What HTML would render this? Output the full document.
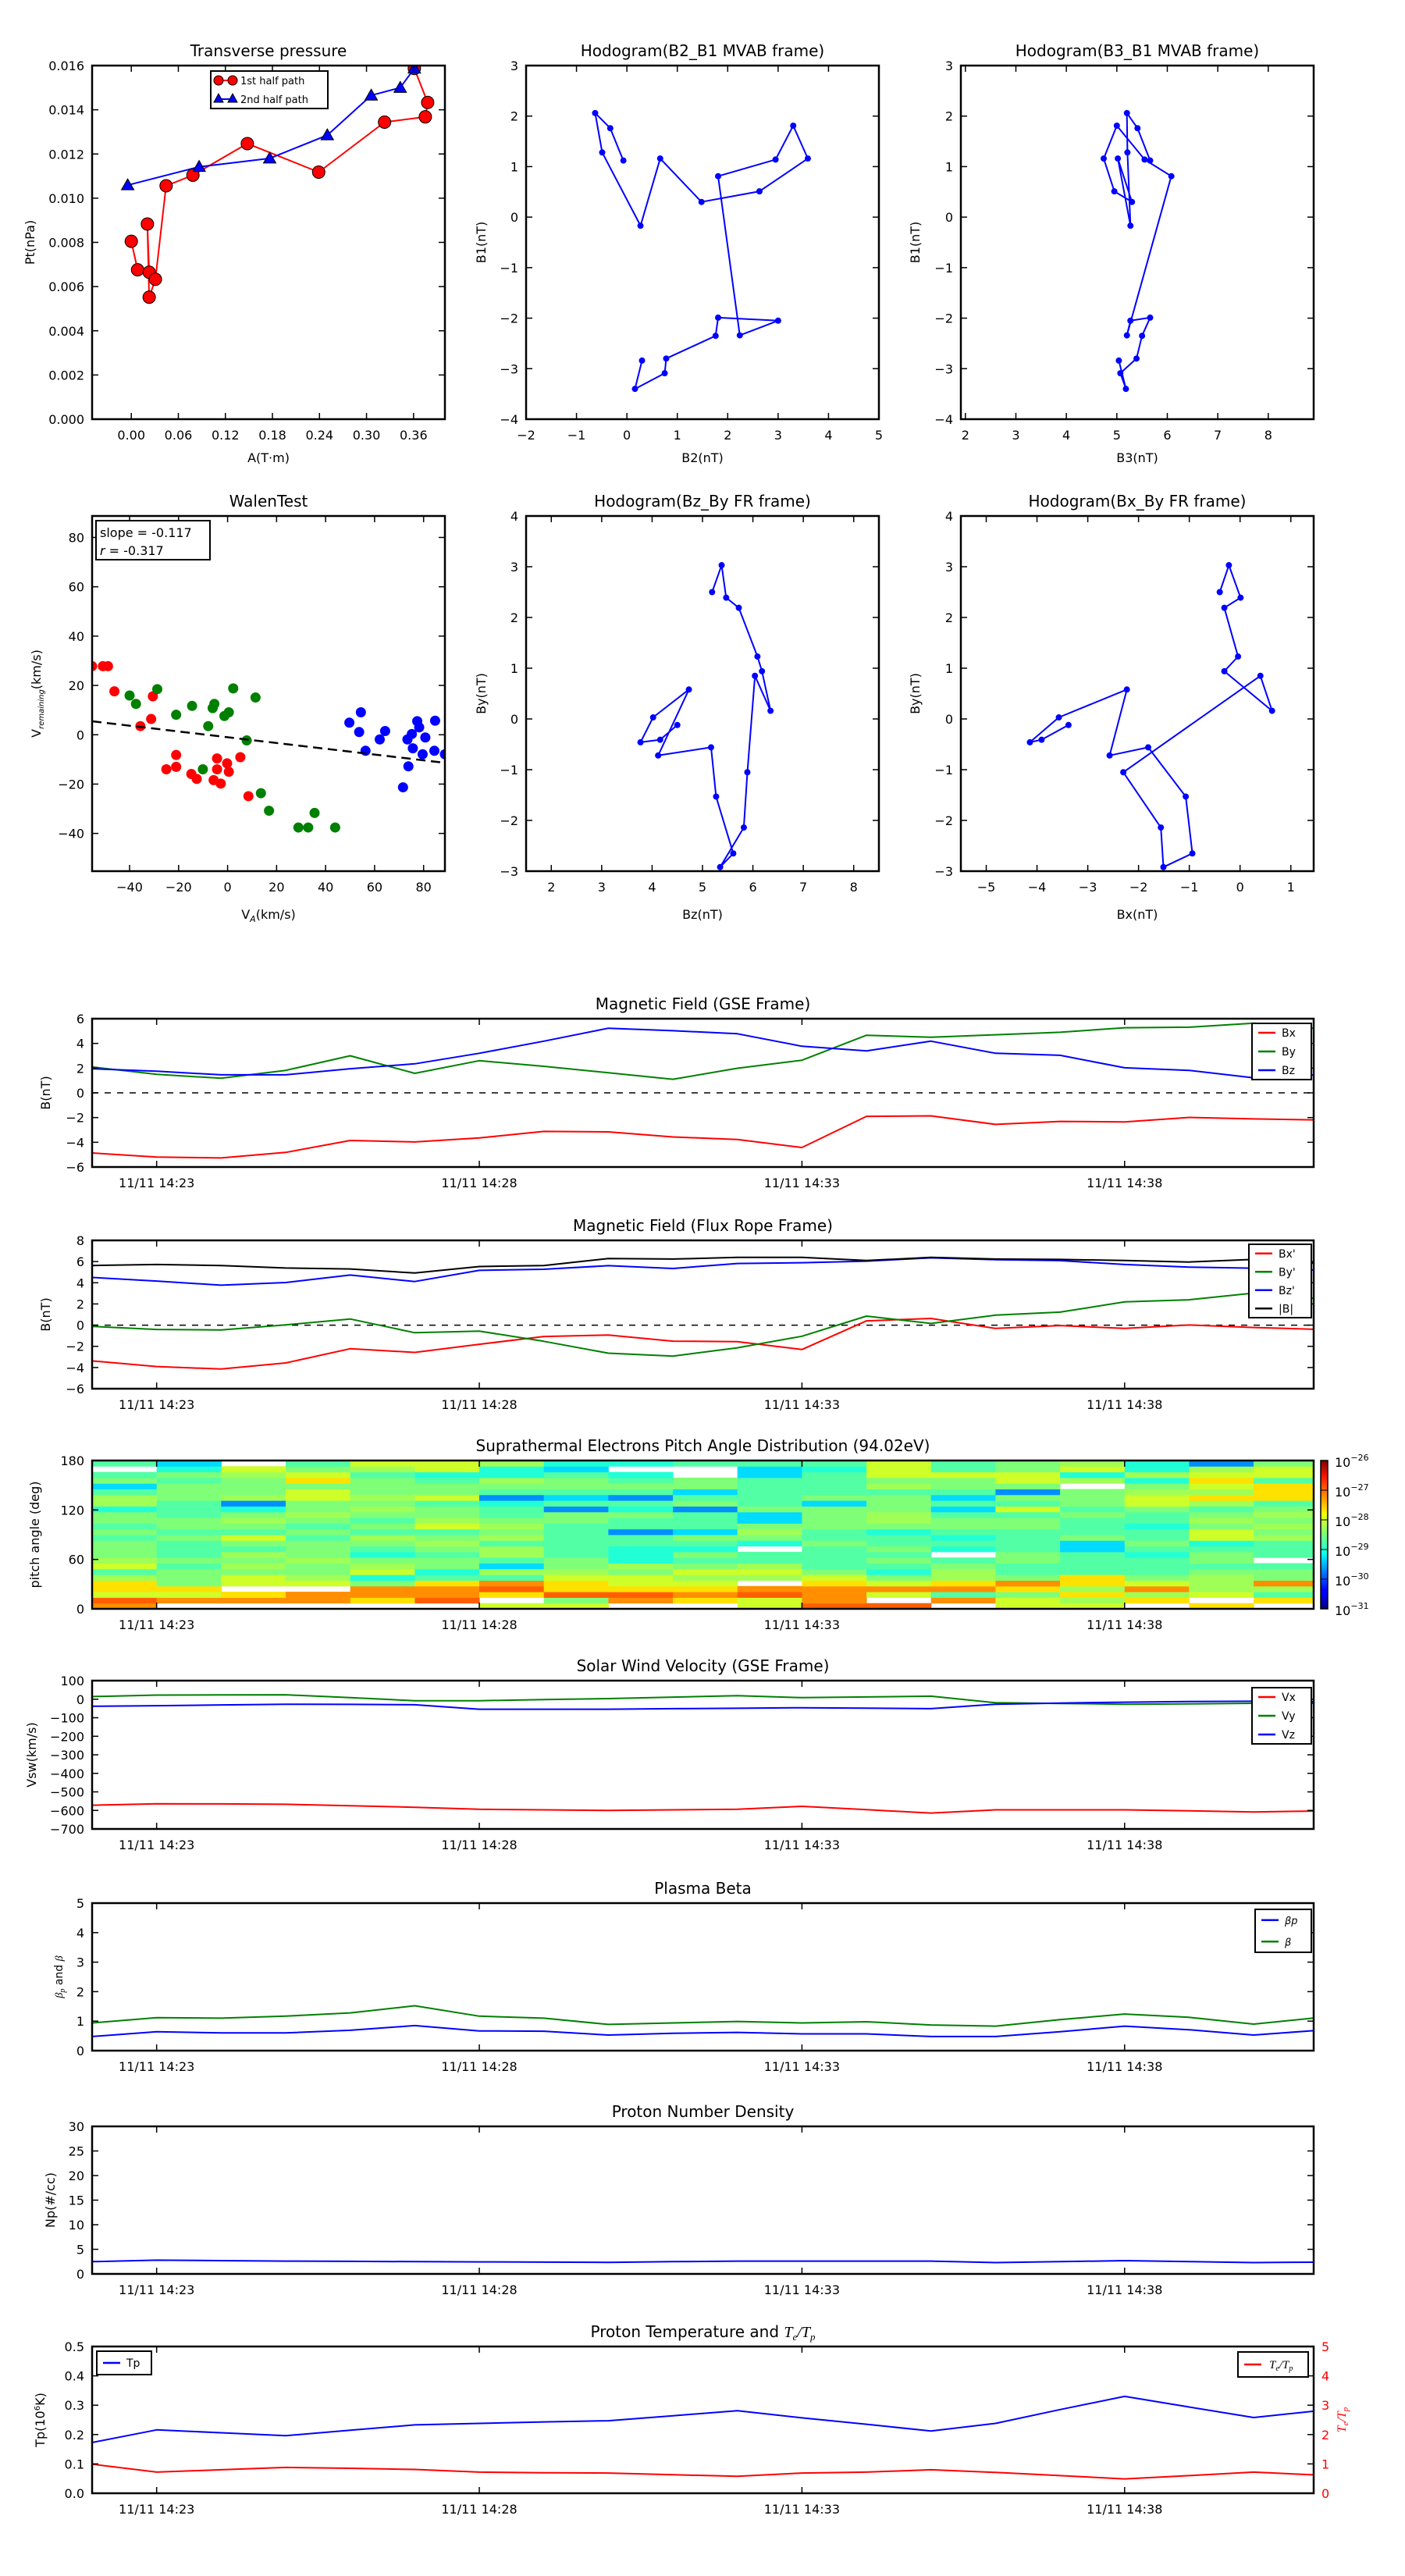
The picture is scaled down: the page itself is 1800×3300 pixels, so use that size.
<!DOCTYPE html>
<html><head><meta charset="utf-8"><style>
html,body{margin:0;padding:0;background:#fff;}
svg{display:block;font-family:"DejaVu Sans","Liberation Sans",sans-serif;}
</style></head><body>
<svg id="fig" xmlns="http://www.w3.org/2000/svg" width="1800" height="3300" viewBox="0 0 1800 3300">
<defs>
<linearGradient id="jetgrad" x1="0" y1="1" x2="0" y2="0">
<stop offset="0" stop-color="#00007f"/><stop offset="0.11" stop-color="#0000ff"/><stop offset="0.125" stop-color="#0000ff"/><stop offset="0.34" stop-color="#00dcff"/><stop offset="0.375" stop-color="#0dffe8"/><stop offset="0.5" stop-color="#7bff7b"/><stop offset="0.64" stop-color="#f2ff08"/><stop offset="0.66" stop-color="#ffe600"/><stop offset="0.89" stop-color="#ff1500"/><stop offset="1" stop-color="#7f0000"/>
</linearGradient>
</defs>
</svg>
<script>
// ---------- data ----------
const ptA1=[0,0.008,0.0228,0.0205,0.0228,0.0307,0.0444,0.0786,0.148,0.239,0.323,0.375,0.378,0.361];
const ptP1=[0.00805,0.00676,0.00665,0.00883,0.00552,0.00633,0.01056,0.01104,0.01247,0.01118,0.01344,0.01368,0.01433,0.01587];
const ptA2=[-0.0046,0.0865,0.1765,0.25,0.306,0.343,0.361];
const ptP2=[0.01059,0.01142,0.0118,0.01285,0.01465,0.015,0.01587];
const hB2=[-0.07,-0.33,-0.63,-0.49,0.27,0.66,1.48,2.63,3.59,3.30,2.95,1.81,2.24,3.0,1.81,1.76,0.78,0.75,0.16,0.30];
const hB1=[1.12,1.76,2.06,1.28,-0.17,1.16,0.30,0.51,1.16,1.81,1.14,0.81,-2.34,-2.05,-1.99,-2.35,-2.80,-3.09,-3.40,-2.84];
const hB3=[5.66,5.41,5.2,5.21,5.27,5.02,5.3,4.95,4.74,5.0,5.55,6.08,5.2,5.27,5.66,5.5,5.39,5.07,5.18,5.04];
const wRedX=[-55.3,-50.9,-48.8,-46.2,-35.6,-31.2,-30.5,-25.0,-21.0,-21.0,-14.8,-12.6,-5.7,-4.3,-4.3,-2.8,-0.2,0.5,5.2,8.5];
const wRedY=[27.8,27.8,27.8,17.6,3.5,6.4,15.6,-14.0,-8.2,-13.0,-15.9,-17.9,-18.4,-9.6,-14.0,-19.8,-11.6,-15.0,-9.1,-24.9];
const wGrnX=[-40,-37.4,-28.7,-21,-14.5,-10.1,-7.9,-6.1,-5.4,-1.3,0.5,2.3,7.8,11.4,13.6,16.9,28.9,32.9,35.5,43.9];
const wGrnY=[15.9,12.5,18.5,8.1,11.7,-14.0,3.5,10.8,12.5,7.6,9.1,18.8,-2.3,15.1,-23.7,-30.8,-37.6,-37.6,-31.7,-37.6];
const wBluX=[49.7,53.7,54.4,56.3,62.1,64.3,71.6,73.4,73.8,75.2,75.6,77.4,78.2,79.6,80.7,84.7,84.4,88.7];
const wBluY=[4.9,1.1,9.1,-6.5,-1.9,1.5,-21.3,-1.9,-12.8,0.3,-5.5,5.5,3.0,-7.9,-1.1,5.7,-6.5,-7.9];
const walenSlope=-0.117, walenIntercept=-1.0;
const tMin=[0,1,2,3,4,5,6,7,8,9,10,11,12,13,14,15,16,17,18,19];
const timeTicks=[1,6,11,16];
const timeLabels=["11/11 14:23","11/11 14:28","11/11 14:33","11/11 14:38"];
const gseBx=[-4.86,-5.19,-5.27,-4.82,-3.85,-3.97,-3.65,-3.12,-3.16,-3.57,-3.77,-4.42,-1.9,-1.86,-2.55,-2.31,-2.35,-1.99,-2.11,-2.19];
const gseBy=[2.1,1.5,1.18,1.82,3.0,1.58,2.6,2.15,1.62,1.1,1.99,2.64,4.66,4.5,4.7,4.9,5.27,5.31,5.64,5.2];
const gseBz=[1.95,1.75,1.46,1.46,1.95,2.35,3.2,4.18,5.23,5.03,4.78,3.77,3.4,4.18,3.2,3.04,2.03,1.82,1.22,1.46];
const frBx=[-3.38,-3.91,-4.14,-3.57,-2.23,-2.57,-1.81,-1.07,-0.94,-1.51,-1.56,-2.3,0.4,0.63,-0.31,-0.04,-0.31,0.01,-0.22,-0.4];
const frBy=[-0.12,-0.41,-0.46,0.03,0.58,-0.72,-0.56,-1.53,-2.65,-2.92,-2.14,-1.05,0.85,0.16,0.94,1.23,2.19,2.39,3.03,2.5];
const frBz=[4.5,4.16,3.77,4.02,4.73,4.12,5.17,5.27,5.61,5.35,5.82,5.89,6.04,6.35,6.18,6.09,5.72,5.47,5.38,5.19];
const frBt=[5.63,5.72,5.63,5.39,5.3,4.92,5.53,5.63,6.29,6.24,6.39,6.39,6.1,6.39,6.24,6.2,6.1,5.96,6.2,5.82];
const padCols=["oryYYmgymlllglglltmmgclg.g",".oyYlllglggglgllggglllgltc",".oY.yylmlmglyglmltbmlllmy.",".oo.ymllmlllglglmllyylYylg",".Yooltymltglmglglmlmlllgmy",".rooYgtllglmlgymllgyllgtyy","y.Yrogmcgmmgmlmlggtbglmttm","ylrYYymllggggggllbgcgllgct",".orYyylmtttggbggltgbglgt.t",".YoYymylgltglcgggblgcll..g","yyro.mymgg.tlmlcclgggggccg","roooYylgggglggllllclggggtg","r.yoyltglglggtlmmlllgmlyyy",".ogoYmmlg.tgtgllgcgcgllygg","yylYolggllggggllgyglblyyll","ymYmYYggggcclggglglll.mtym",".Ymoylgggtglggtgglyymltmtt","Y.ymmmlgllgtyylmlgmYmyYymb",".Ygmollg.gggmlmlmlgYYYgyyl"];
const padLogFlux={b:-29.675,c:-29.3,t:-29.05,g:-28.75,l:-28.475,m:-28.275,y:-28.0,Y:-27.64,o:-27.2,r:-26.95};
const swVx=[-572,-564,-565,-567,-575,-583,-594,-597,-600,-597,-594,-578,-596,-614,-597,-597,-597,-602,-608,-603];
const swVy=[14,22,23,24,8,-8,-8,-2,3,11,19,8,12,16,-19,-23,-27,-25,-22,-22];
const swVz=[-38,-35,-31,-27,-28,-30,-54,-54,-54,-51,-49,-46,-48,-51,-27,-21,-16,-13,-11,-14];
const betaP=[0.48,0.64,0.6,0.6,0.69,0.85,0.67,0.66,0.53,0.59,0.62,0.57,0.57,0.48,0.48,0.64,0.83,0.71,0.53,0.69];
const betaT=[0.94,1.12,1.1,1.17,1.28,1.52,1.17,1.1,0.89,0.94,0.99,0.94,0.98,0.87,0.83,1.05,1.24,1.13,0.9,1.12];
const npVals=[2.5,2.8,2.7,2.6,2.55,2.5,2.45,2.4,2.35,2.5,2.6,2.6,2.6,2.6,2.3,2.5,2.7,2.5,2.3,2.4];
const tpVals=[0.173,0.216,0.206,0.196,0.215,0.233,0.238,0.243,0.247,0.264,0.281,0.257,0.235,0.212,0.238,0.285,0.33,0.294,0.258,0.281];
const teTpVals=[0.99,0.72,0.8,0.88,0.85,0.81,0.72,0.7,0.69,0.63,0.58,0.69,0.72,0.8,0.71,0.6,0.49,0.6,0.72,0.62];

// ---------- helpers ----------
const NS='http://www.w3.org/2000/svg';
const svg=document.getElementById('fig');
function mk(tag,attrs,parent){const e=document.createElementNS(NS,tag);for(const k in attrs)e.setAttribute(k,attrs[k]);(parent||svg).appendChild(e);return e;}
function txt(s,attrs,parent){const e=mk('text',attrs,parent);e.textContent=s;return e;}
function lin(d0,d1,r0,r1){return v=>r0+(v-d0)*(r1-r0)/(d1-d0);}
function fmtMinus(s){return String(s).replace('-','\u2212');}
let clipN=0;
function axes(x0,y0,x1,y1,xd,yd,name){
  const g=mk('g',{});
  
  
  const id='clip'+(clipN++);
  const cp=mk('clipPath',{id:id},g);mk('rect',{x:x0,y:y0,width:x1-x0,height:y1-y0},cp);
  const data=mk('g',{'clip-path':'url(#'+id+')'},g);
  
  
  const fr=mk('g',{},g);
  return {g,data,fr,x0,y0,x1,y1,sx:lin(xd[0],xd[1],x0,x1),sy:lin(yd[0],yd[1],y1,y0)};
}
function frame(a){
  const r=mk('rect',{x:a.x0,y:a.y0,width:a.x1-a.x0,height:a.y1-a.y0,fill:'none',stroke:'#000','stroke-width':2.5},a.fr);
  
  
}
function xTicks(a,vals,labels,fs){
  const g=mk('g',{},a.fr);
  
  
  vals.forEach((v,i)=>{const x=a.sx(v);
    mk('line',{x1:x,x2:x,y1:a.y1,y2:a.y1-8,stroke:'#000','stroke-width':1.5},g);
    mk('line',{x1:x,x2:x,y1:a.y0,y2:a.y0+8,stroke:'#000','stroke-width':1.5},g);
    txt(labels[i],{x:x,y:a.y1+26,'font-size':fs||16,'text-anchor':'middle'},g);});
}
function yTicks(a,vals,labels,noRight){
  const g=mk('g',{},a.fr);
  
  
  vals.forEach((v,i)=>{const y=a.sy(v);
    mk('line',{x1:a.x0,x2:a.x0+8,y1:y,y2:y,stroke:'#000','stroke-width':1.5},g);
    if(!noRight)mk('line',{x1:a.x1,x2:a.x1-8,y1:y,y2:y,stroke:'#000','stroke-width':1.5},g);
    txt(labels[i],{x:a.x0-10,y:y+6,'font-size':16,'text-anchor':'end'},g);});
}
function title(a,s,y){const t=txt(s,{x:(a.x0+a.x1)/2,y:y,'font-size':20,'text-anchor':'middle'},a.g);
  return t;}
function xLabel(a,s,y){const t=txt(s,{x:(a.x0+a.x1)/2,y:y,'font-size':16,'text-anchor':'middle'},a.g);
  return t;}
function yLabel(a,s,x,col){const cy=(a.y0+a.y1)/2;const t=txt(s,{x:x,y:cy,'font-size':16,'text-anchor':'middle',transform:'rotate(-90 '+x+' '+cy+')',fill:col||'#000'},a.g);
  return t;}
function poly(a,xs,ys,col,w,name,dash){
  const pts=xs.map((x,i)=>a.sx(x).toFixed(1)+','+a.sy(ys[i]).toFixed(1)).join(' ');
  const p=mk('polyline',{points:pts,fill:'none',stroke:col,'stroke-width':w||2,'stroke-linejoin':'round'},a.data);
  if(dash)p.setAttribute('stroke-dasharray',dash);
  
  
  return p;
}
function dots(a,xs,ys,col,r,name,stroke){
  xs.forEach((x,i)=>{const c=mk('circle',{cx:a.sx(x),cy:a.sy(ys[i]),r:r,fill:col,stroke:stroke||'none','stroke-width':1},a.data);
    
    });
}
function legend(x,y,w,h,entries,fs,parent){
  const g=mk('g',{},parent);
  
  
  mk('rect',{x:x,y:y,width:w,height:h,fill:'#fff',stroke:'#000','stroke-width':2},g);
  const step=h/entries.length;
  entries.forEach((e,i)=>{const cy=y+step*(i+0.5);
    const eg=mk('g',{},g);
    
    
    mk('line',{x1:x+8,x2:x+30,y1:cy,y2:cy,stroke:e[1],'stroke-width':2.5},eg);
    const t=txt(e[0],{x:x+38,y:cy+5,'font-size':fs||14},eg);
    if(e[2])t.setAttribute('font-style','italic');});
  return g;
}
const range=(a,b,s)=>{const r=[];for(let v=a;v<=b+1e-9;v+=s)r.push(+v.toFixed(6));return r;};

// ---------- Transverse pressure ----------
{const a=axes(118,84,570,537,[-0.05,0.40],[0,0.016],'transverse-pressure-chart');
 poly(a,ptA1,ptP1,'#ff0000',2,'first-half-path-line');
 poly(a,ptA2,ptP2,'#0000ff',2,'second-half-path-line');
 dots(a,ptA1,ptP1,'#ff0000',8,'first-half-point','#000');
 ptA2.forEach((v,i)=>{const x=a.sx(v),y=a.sy(ptP2[i]);
   const t=mk('polygon',{points:`${x},${y-8} ${x-8},${y+6} ${x+8},${y+6}`,fill:'#0000ff',stroke:'#000','stroke-width':1},a.data);
   
   });
 frame(a);
 const xv=[0,0.06,0.12,0.18,0.24,0.30,0.36];xTicks(a,xv,xv.map(v=>v.toFixed(2)));
 const yv=range(0,0.016,0.002);yTicks(a,yv,yv.map(v=>v.toFixed(3)));
 title(a,'Transverse pressure',72);xLabel(a,'A(T\u00b7m)',592);yLabel(a,'Pt(nPa)',44);
 const lg=mk('g',{},a.g);
 mk('rect',{x:270,y:91,width:150,height:48,fill:'#fff',stroke:'#000','stroke-width':2},lg);
 mk('line',{x1:278,x2:300,y1:103,y2:103,stroke:'#f00','stroke-width':2},lg);
 mk('circle',{cx:280,cy:103,r:6,fill:'#f00',stroke:'#000'},lg);mk('circle',{cx:298,cy:103,r:6,fill:'#f00',stroke:'#000'},lg);
 txt('1st half path',{x:308,y:108,'font-size':13},lg);
 mk('line',{x1:278,x2:300,y1:127,y2:127,stroke:'#00f','stroke-width':2},lg);
 mk('polygon',{points:'280,120 274,131 286,131',fill:'#00f',stroke:'#000'},lg);mk('polygon',{points:'298,120 292,131 304,131',fill:'#00f',stroke:'#000'},lg);
 txt('2nd half path',{x:308,y:132,'font-size':13},lg);
}
// ---------- Hodogram B2_B1 ----------
{const a=axes(674,84,1126,537,[-2,5],[-4,3],'hodogram-b2-b1-chart');
 poly(a,hB2,hB1,'#0000ff',2,'hodogram-b2-b1-line');dots(a,hB2,hB1,'#0000ff',4,'hodogram-b2-b1-point');
 frame(a);const xv=range(-2,5,1);xTicks(a,xv,xv.map(fmtMinus));const yv=range(-4,3,1);yTicks(a,yv,yv.map(fmtMinus));
 title(a,'Hodogram(B2_B1 MVAB frame)',72);xLabel(a,'B2(nT)',592);yLabel(a,'B1(nT)',622);}
// ---------- Hodogram B3_B1 ----------
{const a=axes(1231,84,1683,537,[1.91,8.9],[-4,3],'hodogram-b3-b1-chart');
 poly(a,hB3,hB1,'#0000ff',2,'hodogram-b3-b1-line');dots(a,hB3,hB1,'#0000ff',4,'hodogram-b3-b1-point');
 frame(a);const xv=range(2,8,1);xTicks(a,xv,xv.map(fmtMinus));const yv=range(-4,3,1);yTicks(a,yv,yv.map(fmtMinus));
 title(a,'Hodogram(B3_B1 MVAB frame)',72);xLabel(a,'B3(nT)',592);yLabel(a,'B1(nT)',1178);}
// ---------- Walen test ----------
{const a=axes(118,661,570,1116,[-55.3,88.7],[-55.3,88.7],'walen-test-chart');
 dots(a,wRedX,wRedY,'#ff0000',6.5,'walen-red-point');dots(a,wGrnX,wGrnY,'#008000',6.5,'walen-green-point');dots(a,wBluX,wBluY,'#0000ff',6.5,'walen-blue-point');
 const fx=[-55.3,88.7];poly(a,fx,fx.map(v=>walenSlope*v+walenIntercept),'#000',2.5,'walen-fit-line','12,7');
 frame(a);const xv=range(-40,80,20);xTicks(a,xv,xv.map(fmtMinus));const yv=range(-40,80,20);yTicks(a,yv,yv.map(fmtMinus));
 title(a,'WalenTest',649);
 const xl=xLabel(a,'',1177);xl.innerHTML='V<tspan font-size="11" dy="4" font-style="italic">A</tspan><tspan dy="-4">(km/s)</tspan>';
 const yl=yLabel(a,'',52);yl.innerHTML='V<tspan font-size="10" dy="4" font-style="italic">remaining</tspan><tspan dy="-4">(km/s)</tspan>';
 const bx=mk('g',{},a.g);
 mk('rect',{x:123,y:667,width:146,height:50,fill:'#fff',stroke:'#000','stroke-width':2},bx);
 txt('slope = -0.117',{x:128,y:688,'font-size':16},bx);
 const rt=txt('',{x:128,y:711,'font-size':16},bx);rt.innerHTML='<tspan font-style="italic">r</tspan> = -0.317';}
// ---------- Hodogram Bz_By ----------
{const a=axes(674,661,1126,1116,[1.5,8.5],[-3,4],'hodogram-bz-by-chart');
 poly(a,frBz,frBy,'#0000ff',2,'hodogram-bz-by-line');dots(a,frBz,frBy,'#0000ff',4,'hodogram-bz-by-point');
 frame(a);const xv=range(2,8,1);xTicks(a,xv,xv.map(fmtMinus));const yv=range(-3,4,1);yTicks(a,yv,yv.map(fmtMinus));
 title(a,'Hodogram(Bz_By FR frame)',649);xLabel(a,'Bz(nT)',1177);yLabel(a,'By(nT)',622);}
// ---------- Hodogram Bx_By ----------
{const a=axes(1231,661,1683,1116,[-5.5,1.45],[-3,4],'hodogram-bx-by-chart');
 poly(a,frBx,frBy,'#0000ff',2,'hodogram-bx-by-line');dots(a,frBx,frBy,'#0000ff',4,'hodogram-bx-by-point');
 frame(a);const xv=range(-5,1,1);xTicks(a,xv,xv.map(fmtMinus));const yv=range(-3,4,1);yTicks(a,yv,yv.map(fmtMinus));
 title(a,'Hodogram(Bx_By FR frame)',649);xLabel(a,'Bx(nT)',1177);yLabel(a,'By(nT)',1178);}

// ---------- time panels ----------
const TX0=118,TX1=1683,TD=[0,18.93];
function tpanel(y0,y1,yd,name,ttl){const a=axes(TX0,y0,TX1,y1,TD,yd,name);title(a,ttl,y0-12);return a;}
function tfinish(a,yv,ylabels,noRight){frame(a);xTicks(a,timeTicks,timeLabels);yTicks(a,yv,ylabels,noRight);}
// GSE
{const a=tpanel(1305,1495,[-6,6],'magnetic-field-gse-chart','Magnetic Field (GSE Frame)');
 poly(a,[0,18.93],[0,0],'#000',1.5,'zero-reference-line','8,8');
 poly(a,tMin,gseBx,'#ff0000',2,'series-bx');poly(a,tMin,gseBy,'#008000',2,'series-by');poly(a,tMin,gseBz,'#0000ff',2,'series-bz');
 const yv=range(-6,6,2);tfinish(a,yv,yv.map(fmtMinus));yLabel(a,'B(nT)',64);
 legend(1604,1311,76,72,[['Bx','#f00'],['By','#008000'],['Bz','#00f']],14,a.g);}
// Flux rope
{const a=tpanel(1589,1779,[-6,8],'magnetic-field-flux-rope-chart','Magnetic Field (Flux Rope Frame)');
 poly(a,[0,18.93],[0,0],'#000',1.5,'zero-reference-line','8,8');
 poly(a,tMin,frBx,'#ff0000',2,'series-bx-prime');poly(a,tMin,frBy,'#008000',2,'series-by-prime');poly(a,tMin,frBz,'#0000ff',2,'series-bz-prime');poly(a,tMin,frBt,'#000000',2,'series-b-total');
 const yv=range(-6,8,2);tfinish(a,yv,yv.map(fmtMinus));yLabel(a,'B(nT)',64);
 legend(1600,1594,80,94,[["Bx'",'#f00'],["By'",'#008000'],["Bz'",'#00f'],['|B|','#000']],14,a.g);}
// PAD
function jet(x){const c=(v)=>Math.max(0,Math.min(1,v));
  const pw=(pts)=>{for(let i=1;i<pts.length;i++){if(x<=pts[i][0]){const [x0,y0]=pts[i-1],[x1,y1]=pts[i];return y0+(y1-y0)*(x-x0)/(x1-x0);}}return pts[pts.length-1][1];};
  const r=pw([[0,0],[0.35,0],[0.66,1],[0.89,1],[1,0.5]]),g=pw([[0,0],[0.125,0],[0.375,1],[0.64,1],[0.91,0],[1,0]]),b=pw([[0,0.5],[0.11,1],[0.34,1],[0.65,0],[1,0]]);
  return 'rgb('+[r,g,b].map(v=>Math.round(c(v)*255)).join(',')+')';}
{const a=tpanel(1871,2061,[0,180],'pitch-angle-distribution-chart','Suprathermal Electrons Pitch Angle Distribution (94.02eV)');
 const nb=26,bw=180/nb;
 padCols.forEach((col,i)=>{for(let k=0;k<nb;k++){const ch=col[k];if(ch==='.')continue;
   const lv=padLogFlux[ch];const xn=(lv+31)/5;
   const x=a.sx(i),x2=a.sx(i+1),y=a.sy((k+1)*bw),y2=a.sy(k*bw);
   const r=mk('rect',{x:x.toFixed(1),y:y.toFixed(1),width:(x2-x+0.5).toFixed(1),height:(y2-y+0.5).toFixed(1),fill:jet(xn)},a.data);
   
   }});
 const yv=[0,60,120,180];tfinish(a,yv,yv.map(String));yLabel(a,'pitch angle (deg)',50);
 const cb=mk('g',{});
 mk('rect',{x:1692,y:1871,width:9,height:190,fill:'url(#jetgrad)',stroke:'#000','stroke-width':1.5},cb);
 [-26,-27,-28,-29,-30,-31].forEach((e,i)=>{const y=1871+i*38;
   mk('line',{x1:1692,x2:1701,y1:y,y2:y,stroke:'#000','stroke-width':1},cb);
   const t=txt('',{x:1710,y:y+8,'font-size':16},cb);t.innerHTML='10<tspan font-size="11" dy="-8">'+fmtMinus(e)+'</tspan>';
   });}
// SW velocity
{const a=tpanel(2153,2343,[-700,100],'solar-wind-velocity-chart','Solar Wind Velocity (GSE Frame)');
 poly(a,tMin,swVx,'#ff0000',2,'series-vx');poly(a,tMin,swVy,'#008000',2,'series-vy');poly(a,tMin,swVz,'#0000ff',2,'series-vz');
 const yv=range(-700,100,100);tfinish(a,yv,yv.map(fmtMinus));yLabel(a,'Vsw(km/s)',46);
 legend(1604,2162,76,72,[['Vx','#f00'],['Vy','#008000'],['Vz','#00f']],14,a.g);}
// Beta
{const a=tpanel(2438,2627,[0,5],'plasma-beta-chart','Plasma Beta');
 poly(a,tMin,betaT,'#008000',2,'series-beta');poly(a,tMin,betaP,'#0000ff',2,'series-beta-p');
 const yv=range(0,5,1);tfinish(a,yv,yv.map(String));
 const yl=yLabel(a,'',80);yl.innerHTML='<tspan font-style="italic" font-family="Liberation Serif">\u03b2<tspan font-size="10" dy="3">p</tspan></tspan><tspan dy="-3"> and </tspan><tspan font-style="italic" font-family="Liberation Serif">\u03b2</tspan>';yl.setAttribute('font-size','14');
 legend(1608,2446,72,55,[['\u03b2p','#00f',1],['\u03b2','#008000',1]],13,a.g);}
// Np
{const a=tpanel(2724,2913,[0,30],'proton-density-chart','Proton Number Density');
 poly(a,tMin,npVals,'#0000ff',2,'series-np');
 const yv=range(0,30,5);tfinish(a,yv,yv.map(String));yLabel(a,'Np(#/cc)',70);}
// Tp
{const a=tpanel(3006,3194,[0,0.5],'proton-temperature-chart','');
 const tt=a.g.querySelector('text');tt.innerHTML='Proton Temperature and <tspan font-style="italic" font-family="Liberation Serif">T<tspan font-size="13" dy="4">e</tspan><tspan dy="-4">/T</tspan><tspan font-size="13" dy="4">p</tspan></tspan>';
 poly(a,tMin,tpVals,'#0000ff',2,'series-tp');
 const sy2=lin(0,5,a.y1,a.y0);
 const pts=tMin.map((t,i)=>a.sx(t).toFixed(1)+','+sy2(teTpVals[i]).toFixed(1)).join(' ');
 const pl=mk('polyline',{points:pts,fill:'none',stroke:'#f00','stroke-width':2},a.data);
 
 
 const yv=range(0,0.5,0.1);tfinish(a,yv,yv.map(v=>v.toFixed(1)),true);
 const rg=mk('g',{},a.fr);
 range(0,5,1).forEach(v=>{const y=sy2(v);mk('line',{x1:a.x1,x2:a.x1-8,y1:y,y2:y,stroke:'#000','stroke-width':1.5},rg);
   txt(String(v),{x:a.x1+10,y:y+6,'font-size':16,fill:'#f00'},rg);});
 const yl=yLabel(a,'',57);yl.innerHTML='Tp(10<tspan font-size="10" dy="-6">6</tspan><tspan dy="6">K)</tspan>';
 const yr=yLabel(a,'',1724,'#f00');yr.innerHTML='<tspan font-style="italic" font-family="Liberation Serif">T<tspan font-size="11" dy="3">e</tspan><tspan dy="-3">/T</tspan><tspan font-size="11" dy="3">p</tspan></tspan>';
 legend(124,3012,70,30,[['Tp','#00f']],14,a.g);
 const lr=legend(1586,3013,90,32,[['','#f00']],14,a.g);
 const lt=txt('',{x:1626,y:3034,'font-size':15,'font-family':'Liberation Serif','font-style':'italic'},lr);lt.innerHTML='T<tspan font-size="10" dy="3">e</tspan><tspan dy="-3">/T</tspan><tspan font-size="10" dy="3">p</tspan>';}
</script>
</body></html>
